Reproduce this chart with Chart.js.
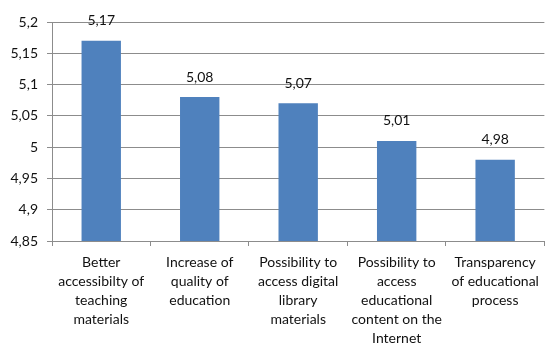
<!DOCTYPE html>
<html>
<head>
<meta charset="utf-8">
<script src="https://cdn.jsdelivr.net/npm/chart.js@4.4.1/dist/chart.umd.min.js"></script>
<style>
  html, body { margin: 0; padding: 0; background: #fff; }
  #wrap { width: 546px; height: 344px; }
</style>
</head>
<body>
<div id="wrap"><canvas id="c" width="546" height="344"></canvas></div>
<script>
// Category labels (one array entry per line) and mean scores
const categories = [
  ['Better', 'accessibilty of', 'teaching', 'materials'],
  ['Increase of', 'quality of', 'education'],
  ['Possibility to', 'access digital', 'library', 'materials'],
  ['Possibility to', 'access', 'educational', 'content on the', 'Internet'],
  ['Transparency', 'of educational', 'process']
];
const scores = [5.17, 5.08, 5.07, 5.01, 4.98];
const yMin = 4.85;
const yMax = 5.2;
const yStep = 0.05;

const FONT = 'Lato, "Open Sans", sans-serif';
const GRID = '#8c8c8c';

const toComma = v => String(+v.toFixed(2)).replace('.', ',');

// Writes each bar's value above it
const valueLabels = {
  id: 'valueLabels',
  afterDatasetsDraw(chart) {
    const ctx = chart.ctx;
    const meta = chart.getDatasetMeta(0);
    ctx.save();
    ctx.font = '14px ' + FONT;
    ctx.fillStyle = '#111';
    ctx.textAlign = 'center';
    ctx.textBaseline = 'middle';
    meta.data.forEach((bar, i) => {
      ctx.fillText(toComma(scores[i]), bar.x, bar.y - 20);
    });
    ctx.restore();
  }
};

new Chart(document.getElementById('c'), {
  type: 'bar',
  data: {
    labels: categories,
    datasets: [{
      data: scores,
      backgroundColor: '#4F81BD',
      borderWidth: 0,
      barPercentage: 0.4,
      categoryPercentage: 1.0
    }]
  },
  options: {
    responsive: false,
    animation: false,
    layout: { padding: { top: 22, right: 1, left: 0, bottom: 0 } },
    plugins: { legend: { display: false }, tooltip: { enabled: false } },
    scales: {
      x: {
        offset: true,
        grid: {
          offset: true,
          drawOnChartArea: false,
          drawTicks: true,
          tickLength: 5,
          color: GRID
        },
        border: { color: GRID, width: 1 },
        ticks: {
          color: '#111',
          font: { family: FONT, size: 14, lineHeight: 1.36 },
          padding: 7,
          maxRotation: 0,
          autoSkip: false
        },
        afterFit(scale) { scale.height = 103; }
      },
      y: {
        min: yMin,
        max: yMax,
        grid: { color: GRID, tickLength: 5 },
        border: { color: GRID, width: 1 },
        ticks: {
          stepSize: yStep,
          color: '#111',
          font: { family: FONT, size: 14 },
          padding: 9,
          callback: v => toComma(v)
        },
        afterFit(scale) { scale.width = 52; }
      }
    }
  },
  plugins: [valueLabels]
});
</script>
</body>
</html>
